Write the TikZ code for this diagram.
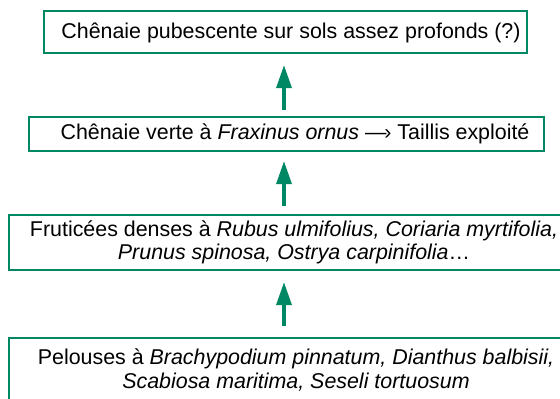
\documentclass[tikz,border=0pt]{standalone}
\usepackage{fontspec}
\setmainfont{Liberation Sans}
\usetikzlibrary{arrows.meta}
\definecolor{vert}{RGB}{0,135,100}
\tikzset{
  boxframe/.style={draw=vert, line width=2.2bp, rectangle, inner sep=0pt},
  lbl/.style={align=center, inner sep=0pt, font=\fontsize{21.4bp}{23.5bp}\selectfont, text=black},
  uparrow/.style={draw=vert, line width=3.4bp, -{Triangle[length=23bp,width=15bp]}}
}
\begin{document}
\begin{tikzpicture}[x=1bp, y=-1bp]
\useasboundingbox (0,0) rectangle (560,398);
\node[boxframe, minimum width=483bp, minimum height=42bp] (b1) at (285.5,32) {};
\node[boxframe, minimum width=515bp, minimum height=34bp] (b2) at (286.5,134) {};
\node[boxframe, minimum width=571bp, minimum height=55bp] (b3) at (294.5,242.5) {};
\node[boxframe, minimum width=571bp, minimum height=66bp] (b4) at (294.5,371) {};
\node[lbl] (t1) at (291,33) {Chênaie pubescente sur sols assez profonds (?)};
\node[lbl] (t2) at (295,134) {Chênaie verte à \textit{Fraxinus ornus} —\kern-0.1em› Taillis exploité};
\node[lbl] (t3) at (294,242.5) {Fruticées denses à \textit{Rubus ulmifolius, Coriaria myrtifolia,}\\ \textit{Prunus spinosa, Ostrya carpinifolia}…};
\node[lbl] (t4) at (296,370) {Pelouses à \textit{Brachypodium pinnatum, Dianthus balbisii,}\\ \textit{Scabiosa maritima, Seseli tortuosum}};
\coordinate (ax) at (284,0);
\draw[uparrow, shorten <=6bp, shorten >=11bp] (b2.north -| ax) -- (b1.south -| ax);
\draw[uparrow, shorten <=8bp, shorten >=9bp] (b3.north -| ax) -- (b2.south -| ax);
\draw[uparrow, shorten <=11bp, shorten >=11bp] (b4.north -| ax) -- (b3.south -| ax);
\end{tikzpicture}
\end{document}
